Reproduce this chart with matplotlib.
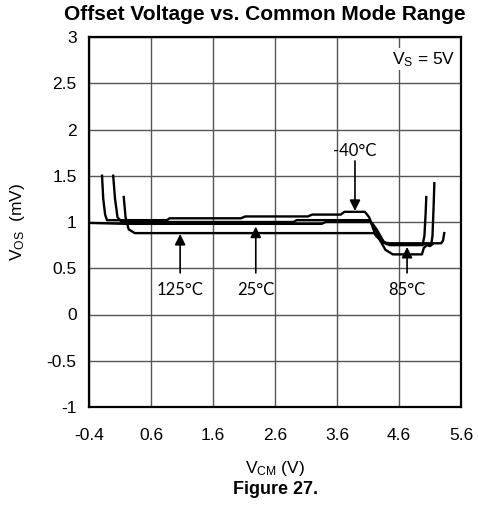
import numpy as np
import matplotlib
matplotlib.use("Agg")
import matplotlib.pyplot as plt

plt.rcParams['font.family'] = ['Liberation Sans', 'DejaVu Sans']
plt.rcParams['mathtext.fontset'] = 'custom'
plt.rcParams['mathtext.rm'] = 'Liberation Sans'
plt.rcParams['mathtext.it'] = 'Liberation Sans:italic'

# offset voltage curves (VCM in V, VOS in mV)
vcm_m40 = [-0.19, -0.17, -0.14, -0.11, 0.86, 0.90, 2.05, 2.12, 3.13, 3.20, 3.66, 3.72, 4.05, 4.12, 4.22, 4.33, 4.45, 5.28, 5.31, 5.33]
vos_m40 = [1.50, 1.25, 1.08, 1.02, 1.02, 1.04, 1.04, 1.06, 1.06, 1.08, 1.08, 1.11, 1.11, 1.05, 0.86, 0.78, 0.77, 0.77, 0.80, 0.88]

vcm_25 = [-0.01, 0.02, 0.06, 0.13, 2.90, 2.95, 4.12, 4.20, 4.30, 4.40, 5.12, 5.14, 5.16, 5.17]
vos_25 = [1.50, 1.25, 1.05, 1.00, 1.00, 1.02, 1.02, 0.95, 0.80, 0.76, 0.76, 0.85, 1.20, 1.42]

vcm_85 = [-0.40, 0.20, 3.35, 3.42, 4.15, 4.24, 4.35, 4.45, 4.98, 5.01, 5.03, 5.04]
vos_85 = [0.99, 0.98, 0.98, 1.00, 1.00, 0.92, 0.79, 0.75, 0.75, 0.85, 1.10, 1.27]

vcm_125 = [0.16, 0.19, 0.24, 0.34, 4.20, 4.28, 4.38, 4.50, 4.97, 5.00, 5.05, 5.10, 5.14]
vos_125 = [1.27, 1.05, 0.92, 0.88, 0.88, 0.82, 0.70, 0.65, 0.65, 0.72, 0.75, 0.74, 0.76]

curves = [(vcm_m40, vos_m40), (vcm_25, vos_25), (vcm_85, vos_85), (vcm_125, vos_125)]

# temperature labels: (text, arrow x, arrow tip y, arrow tail y, text y)
labels = [("125°C", 1.07, 0.87, 0.45, 0.27),
          ("25°C", 2.29, 0.95, 0.45, 0.27),
          ("85°C", 4.73, 0.73, 0.45, 0.27),
          ("-40°C", 3.89, 1.12, 1.66, 1.77)]

xticks = [-0.4, 0.6, 1.6, 2.6, 3.6, 4.6, 5.6]
yticks = [-1, -0.5, 0, 0.5, 1, 1.5, 2, 2.5, 3]

fig = plt.figure(figsize=(4.78, 5.08), dpi=100)
ax = fig.add_axes([89 / 478, 101 / 508, 372 / 478, 370 / 508])

for x, y in curves:
    ax.plot(x, y, color='black', lw=1.7, zorder=3)

for txt, ax_x, tip, tail, ty in labels:
    ax.annotate('', xy=(ax_x, tip), xytext=(ax_x, tail),
                arrowprops=dict(arrowstyle='-|>', color='black', lw=1.2,
                                mutation_scale=16, shrinkA=0, shrinkB=0), zorder=4)
    ax.text(ax_x, ty, txt, ha='center', va='center', fontsize=12,
            family=['Lato', 'DejaVu Sans'], zorder=4)

ax.text(5.5, 2.76, r'V$_\mathrm{S}$ = 5V', ha='right', va='center', fontsize=12.5,
        bbox=dict(facecolor='white', edgecolor='none', pad=1), zorder=4)

ax.set_xlim(-0.4, 5.6)
ax.set_ylim(-1, 3)
ax.set_xticks(xticks)
ax.set_xticklabels([f'{v:g}' for v in xticks])
ax.set_yticks(yticks)
ax.set_yticklabels([f'{v:g}' for v in yticks])
ax.tick_params(length=0, labelsize=12.5)
ax.tick_params(axis='y', pad=9)
ax.tick_params(axis='x', pad=15)
ax.grid(True, color='#555555', lw=1.0)
ax.set_axisbelow(True)
for s in ax.spines.values():
    s.set_linewidth(1.6)

ax.set_xlabel(r'V$_\mathrm{CM}$ (V)', fontsize=12.5, labelpad=12)
ax.set_ylabel(r'V$_\mathrm{OS}$  (mV)', fontsize=12.5, labelpad=14)
fig.text(265 / 478, 1 - 15 / 508, 'Offset Voltage vs. Common Mode Range',
         ha='center', va='center', fontsize=15, fontweight='bold')
fig.text(276 / 478, 1 - 490 / 508, 'Figure 27.', ha='center', va='center',
         fontsize=13, fontweight='bold')

fig.savefig('out.png', dpi=100)
